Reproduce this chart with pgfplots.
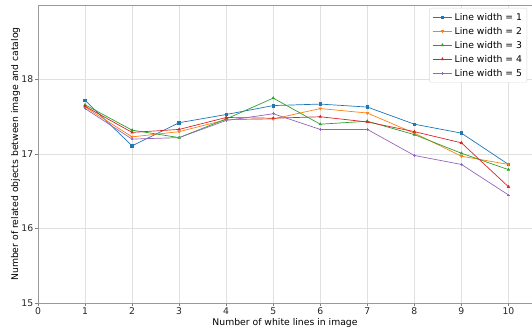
\documentclass[border=0pt]{standalone}
\usepackage{pgfplots}
\pgfplotsset{compat=1.18}
\usepackage{fontspec}
\setmainfont{DejaVu Sans}
\definecolor{c0}{HTML}{1F77B4}
\definecolor{c1}{HTML}{FF7F0E}
\definecolor{c2}{HTML}{2CA02C}
\definecolor{c3}{HTML}{D62728}
\definecolor{c4}{HTML}{9467BD}
\begin{document}
\fontsize{9.3}{11}\selectfont
\begin{tikzpicture}
\begin{axis}[
  scale only axis,
  width=494bp, height=298bp,
  xmin=0, xmax=10.5, ymin=15, ymax=19,
  xtick={0,...,10}, ytick={15,16,17,18},
  /pgf/number format/assume math mode=true,
  tick label style={font=\fontsize{9.3}{11}\selectfont, text=black!85},
  label style={font=\fontsize{9.3}{11}\selectfont},
  xlabel={Number of white lines in image},
  ylabel={Number of related objects between image and catalog},
  xlabel style={yshift=2pt},
  ylabel style={yshift=-5pt},
  xticklabel style={yshift=2pt},
  yticklabel style={xshift=1.5pt},
  grid=major,
  grid style={black!12, line width=0.6pt},
  axis line style={black!40, line width=0.8pt},
  tick style={black!50, line width=0.6pt},
  tick align=outside,
  major tick length=3pt,
  xtick pos=bottom, ytick pos=left,
  clip=false,
  legend style={at={(0.99,0.99)}, anchor=north east, draw=black!15, rounded corners=1pt,
    font=\fontsize{9.3}{11}\selectfont, row sep=1.6pt, inner sep=2.8pt},
  legend cell align=left,
  every axis plot/.append style={line width=0.7pt, mark size=1.3pt},
  legend image code/.code={\draw[mark repeat=2,mark phase=2] plot coordinates {(0cm,0cm) (0.35cm,0cm) (0.7cm,0cm)};},
]
\addplot[c0, mark=square*] coordinates {(1,17.72) (2,17.11) (3,17.42) (4,17.53) (5,17.65) (6,17.67) (7,17.63) (8,17.40) (9,17.28) (10,16.86)};
\addlegendentry{Line width = 1}
\addplot[c1, mark=triangle*, mark options={rotate=180}] coordinates {(1,17.63) (2,17.23) (3,17.30) (4,17.46) (5,17.47) (6,17.61) (7,17.55) (8,17.28) (9,16.97) (10,16.86)};
\addlegendentry{Line width = 2}
\addplot[c2, mark=triangle*] coordinates {(1,17.66) (2,17.32) (3,17.22) (4,17.47) (5,17.75) (6,17.40) (7,17.44) (8,17.26) (9,17.01) (10,16.79)};
\addlegendentry{Line width = 3}
\addplot[c3, mark=triangle*] coordinates {(1,17.64) (2,17.29) (3,17.33) (4,17.49) (5,17.48) (6,17.50) (7,17.43) (8,17.30) (9,17.15) (10,16.56)};
\addlegendentry{Line width = 4}
\addplot[c4, mark=+] coordinates {(1,17.61) (2,17.20) (3,17.22) (4,17.45) (5,17.54) (6,17.33) (7,17.33) (8,16.98) (9,16.86) (10,16.45)};
\addlegendentry{Line width = 5}
\end{axis}
\pgfresetboundingbox
\path ([xshift=-38bp,yshift=-27bp]current axis.south west) rectangle ([yshift=5bp]current axis.north east);
\end{tikzpicture}
\end{document}
